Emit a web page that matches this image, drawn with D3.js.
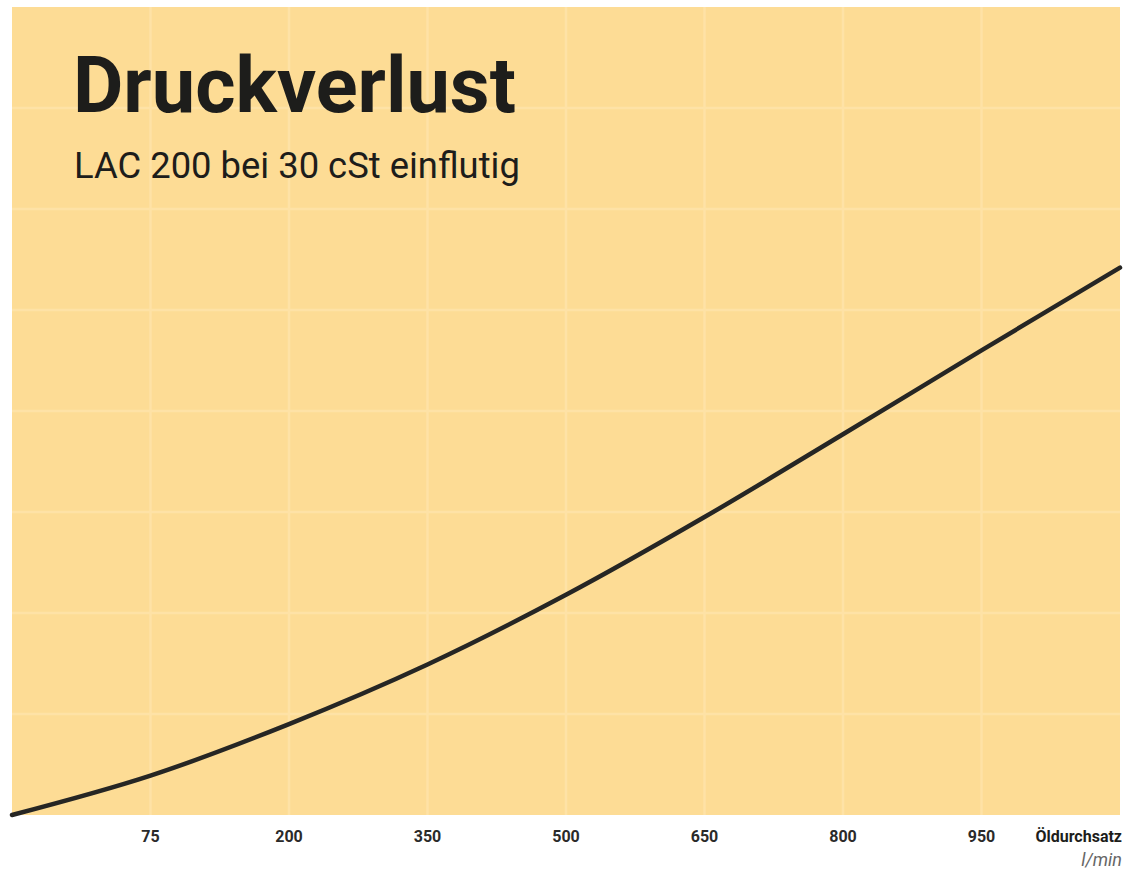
<!DOCTYPE html>
<html>
<head>
<meta charset="utf-8">
<style>
  body { margin: 0; background: #fff; }
  svg { display: block; }
</style>
</head>
<body>
<script src="https://d3js.org/d3.v7.min.js"></script>
<script>
  // flow stops (l/min) at the vertical grid lines, plus the plot edges
  var flowStops = [0, 75, 200, 350, 500, 650, 800, 950, 1100];
  var xTickValues = [75, 200, 350, 500, 650, 800, 950];
  // pressure loss in grid units
  var flow = [0, 75, 200, 350, 500, 650, 800, 950, 1100];
  var pressure = [0, 0.39, 0.90, 1.49, 2.18, 2.95, 3.77, 4.60, 5.42];
  var yGrid = [1, 2, 3, 4, 5, 6, 7];

  var W = 1125, H = 873;
  var plotLeft = 12, plotRight = 1120, plotTop = 7, plotBottom = 815;
  var step = (plotRight - plotLeft) / (flowStops.length - 1);

  var svg = d3.select("body")
    .append("svg")
    .attr("width", W)
    .attr("height", H);

  // labels are evenly spaced, so the scale is piecewise
  let x = d3.scaleLinear()
    .domain(flowStops)
    .range(flowStops.map((d, i) => plotLeft + i * step));

  let y = d3.scaleLinear()
    .domain([0, 8])
    .range([plotBottom, plotTop]);

  svg.append("rect")
    .attr("x", plotLeft)
    .attr("y", plotTop)
    .attr("width", plotRight - plotLeft)
    .attr("height", plotBottom - plotTop)
    .attr("fill", "#fddc95");

  // grid
  svg.selectAll(".vgrid")
    .data(xTickValues)
    .enter()
    .append("line")
    .attr("x1", d => x(d))
    .attr("x2", d => x(d))
    .attr("y1", plotTop)
    .attr("y2", plotBottom)
    .attr("stroke", "#fee2a6")
    .attr("stroke-width", 2.5);

  svg.selectAll(".hgrid")
    .data(yGrid)
    .enter()
    .append("line")
    .attr("x1", plotLeft)
    .attr("x2", plotRight)
    .attr("y1", d => y(d))
    .attr("y2", d => y(d))
    .attr("stroke", "#fee2a6")
    .attr("stroke-width", 2.5);

  // curve
  let line = d3.line()
    .x((d, i) => x(flow[i]))
    .y(d => y(d))
    .curve(d3.curveCatmullRom.alpha(0.5));

  svg.append("path")
    .datum(pressure)
    .attr("d", line)
    .attr("fill", "none")
    .attr("stroke", "#262624")
    .attr("stroke-width", 4.5)
    .attr("stroke-linecap", "round");

  // x axis labels
  svg.selectAll(".xlab")
    .data(xTickValues)
    .enter()
    .append("text")
    .attr("x", d => x(d))
    .attr("y", 842)
    .attr("text-anchor", "middle")
    .style("font-family", "Roboto, 'DejaVu Sans', sans-serif")
    .style("font-weight", "bold")
    .style("font-size", "16px")
    .attr("fill", "#2a2a2a")
    .text(d => d);

  svg.append("text")
    .attr("x", 1122)
    .attr("y", 842)
    .attr("text-anchor", "end")
    .style("font-family", "Roboto, 'DejaVu Sans', sans-serif")
    .style("font-weight", "bold")
    .style("font-size", "16px")
    .attr("fill", "#1d1d1b")
    .text("Öldurchsatz");

  svg.append("text")
    .attr("x", 1122)
    .attr("y", 866)
    .attr("text-anchor", "end")
    .style("font-family", "Roboto, 'DejaVu Sans', sans-serif")
    .style("font-style", "italic")
    .style("font-size", "18px")
    .attr("fill", "#666")
    .text("l/min");

  // title
  svg.append("text")
    .attr("x", 73)
    .attr("y", 112)
    .style("font-family", "Roboto, 'DejaVu Sans', sans-serif")
    .style("font-weight", "bold")
    .style("font-size", "77.5px")
    .attr("fill", "#1d1d1b")
    .text("Druckverlust");

  svg.append("text")
    .attr("x", 74)
    .attr("y", 178)
    .style("font-family", "Roboto, 'DejaVu Sans', sans-serif")
    .style("font-size", "36.4px")
    .attr("fill", "#1d1d1b")
    .text("LAC 200 bei 30 cSt einflutig");
</script>
</body>
</html>
